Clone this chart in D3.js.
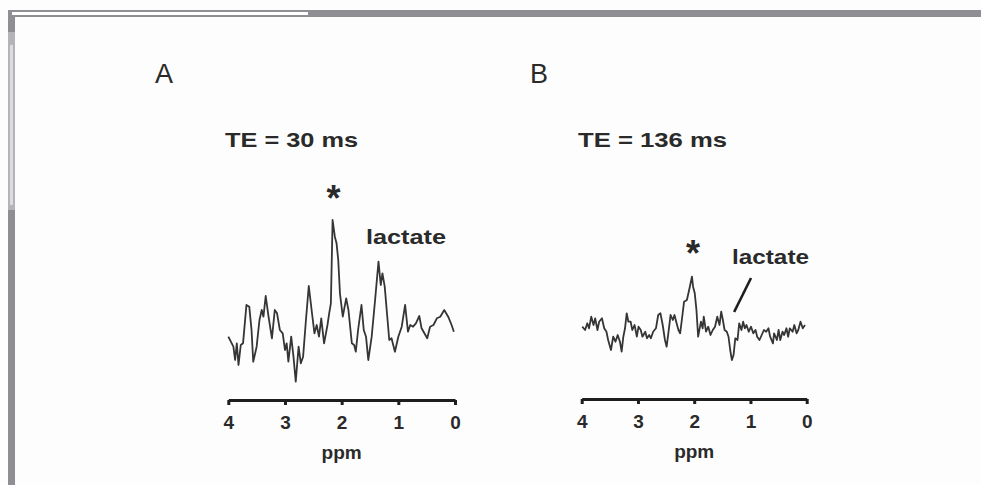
<!DOCTYPE html>
<html><head><meta charset="utf-8">
<script src="https://cdn.jsdelivr.net/npm/d3@7"></script>
<style>
html,body{margin:0;padding:0;background:#fdfdfd;}
svg{display:block;}
text{font-family:"Liberation Sans",Arial,sans-serif;fill:#2a2a2a;}
</style></head>
<body>
<svg id="chart" width="981" height="485"></svg>
<script>
// ---- Data ----
const ppmTicks = [4, 3, 2, 1, 0];
const tickLabels = ["4", "3", "2", "1", "0"];
const panelLabels = ["A", "B"];
const teLabels = ["TE = 30 ms", "TE = 136 ms"];

// Panel A: TE = 30 ms (chemical shift in ppm, signal in arbitrary units)
const ppmA = [4.00,3.91,3.88,3.85,3.82,3.78,3.74,3.68,3.63,3.59,3.56,3.50,3.45,3.41,3.38,3.34,3.29,3.23,3.18,3.14,3.09,3.04,3.00,2.97,2.94,2.89,2.85,2.81,2.76,2.72,2.68,2.63,2.58,2.53,2.48,2.44,2.40,2.36,2.31,2.25,2.22,2.19,2.16,2.12,2.09,2.06,2.03,1.98,1.92,1.88,1.82,1.78,1.75,1.71,1.65,1.61,1.57,1.53,1.47,1.41,1.35,1.31,1.28,1.24,1.19,1.16,1.12,1.06,1.00,0.94,0.88,0.83,0.79,0.74,0.69,0.63,0.59,0.54,0.49,0.44,0.38,0.32,0.26,0.19,0.12,0.06,0.02];
const sigA = [0.33,-0.67,-2.0,-0.33,-2.5,-0.5,-0.33,3.5,3.33,1.0,-2.17,-0.67,2.0,3.0,2.33,4.4,2.33,0.17,3.0,2.67,1.0,0.67,-1.0,-0.33,-2.17,0.33,-1.67,-4.17,-0.67,-2.33,-1.67,2.0,5.4,3.0,0.67,1.5,0.33,2.17,-0.33,1.5,2.67,3.67,12.0,10.33,9.67,8.0,4.67,2.33,4.17,3.0,-0.33,-0.5,-1.17,1.0,3.5,1.0,0.33,-2.0,0.33,4.0,7.83,5.5,6.67,5.33,2.0,0.0,0.17,-1.17,0.33,1.33,3.5,0.83,1.5,1.33,1.67,2.4,1.17,0.67,0.17,1.33,1.5,2.17,2.33,3.0,2.33,1.5,0.83];

// Panel B: TE = 136 ms
const ppmB = [3.99,3.94,3.90,3.87,3.83,3.79,3.76,3.72,3.69,3.64,3.60,3.56,3.53,3.48,3.44,3.40,3.36,3.32,3.29,3.26,3.23,3.20,3.17,3.13,3.10,3.06,3.02,2.99,2.95,2.92,2.87,2.84,2.80,2.77,2.73,2.68,2.64,2.60,2.56,2.52,2.49,2.46,2.42,2.38,2.35,2.32,2.28,2.25,2.22,2.18,2.13,2.09,2.04,2.02,1.99,1.96,1.93,1.88,1.85,1.83,1.79,1.75,1.71,1.67,1.63,1.59,1.55,1.52,1.49,1.46,1.42,1.39,1.36,1.33,1.30,1.27,1.23,1.20,1.16,1.13,1.10,1.07,1.03,0.99,0.95,0.91,0.88,0.84,0.80,0.76,0.72,0.68,0.65,0.60,0.58,0.53,0.50,0.47,0.43,0.40,0.36,0.33,0.30,0.25,0.22,0.18,0.15,0.11,0.07,0.03];
const sigB = [0.33,0,0.67,0.17,1.33,0.5,1.17,0,0.83,1.17,0.17,-0.17,-1.0,-2.0,-0.67,-1.17,-0.5,-1.17,-2.17,-0.67,0.17,1.67,0.83,0.83,0,0.5,-0.67,0.33,0,-0.67,-0.17,-0.83,-0.5,-0.83,-0.17,0.17,1.5,1.67,0.5,-1.0,-1.67,-0.33,1.5,1.0,1.5,0.83,0,-0.33,1.0,2.83,3.0,4.0,5.33,4.33,3.67,2.0,-0.67,0.83,0.17,1.33,-0.17,0.33,-0.5,0,0.33,1.33,0.5,1.83,1.0,0,-0.17,-0.67,-2.0,-3.0,-2.5,-0.83,-1.0,0.67,0,0.83,0.17,0.5,-0.17,0.33,-0.33,0,-0.67,-1.0,-0.5,0,-0.17,0.17,-0.67,-1.33,-0.33,-1.0,0,-1.0,-0.17,-0.5,0.17,-0.67,0.17,-0.17,0.5,-0.33,0,0.83,0.17,0.5];

// annotation anchors (ppm, signal)
const starA = [2.16, 12.0];
const starB = [2.04, 5.33];
const lactLeaderB = [[0.99, 5.2], [1.29, 1.8]];

// ---- Drawing ----
const svg = d3.select("#chart");
const ink = "#262626";

// page frame (scanned figure border)
svg.append("rect").attr("x",8).attr("y",10).attr("width",973).attr("height",7).attr("fill","#8f8f93");
svg.append("rect").attr("x",12).attr("y",12).attr("width",296).attr("height",3).attr("fill","#ffffff");
svg.append("rect").attr("x",8).attr("y",16).attr("width",7).attr("height",469).attr("fill","#8f8f93");
svg.append("rect").attr("x",8).attr("y",32).attr("width",7).attr("height",178).attr("fill","#b4b4b8");
svg.append("rect").attr("x",10).attr("y",45).attr("width",3).attr("height",160).attr("fill","#dcdcdf");

const panels = [
  {ppm: ppmA, sig: sigA, xr: [228.3, 455], y0: 340, axisY: 400, label: panelLabels[0], labelX: 155,
   te: teLabels[0], teX: 225, teLen: 133, star: starA, lactX: 366, lactY: 244, lactLen: 80},
  {ppm: ppmB, sig: sigB, xr: [581.7, 806.7], y0: 330, axisY: 399, label: panelLabels[1], labelX: 530,
   te: teLabels[1], teX: 578, teLen: 149, star: starB, lactX: 732, lactY: 264, lactLen: 77}
];

panels.forEach((p, i) => {
  const x = d3.scaleLinear().domain([4, 0]).range(p.xr);
  const y = d3.scaleLinear().domain([0, 10]).range([p.y0, p.y0 - 100]);
  const g = svg.append("g");

  // spectrum
  const data = p.ppm.map((v, k) => [v, p.sig[k]]);
  g.append("path").datum(data)
    .attr("fill", "none").attr("stroke", "#353535").attr("stroke-width", 1.8)
    .attr("stroke-linejoin", "round")
    .attr("d", d3.line().x(d => x(d[0])).y(d => y(d[1])));

  // ppm axis
  const ax = g.append("g").attr("transform", `translate(0,${p.axisY})`)
    .call(d3.axisBottom(x).tickValues(ppmTicks).tickFormat((d, k) => tickLabels[k])
      .tickSizeInner(5).tickSizeOuter(0).tickPadding(11));
  ax.select(".domain").attr("stroke", "#1e1e1e").attr("stroke-width", 3.2);
  ax.selectAll(".tick line").attr("stroke", "#1e1e1e").attr("stroke-width", 3);
  ax.selectAll(".tick text").attr("font-size", 19).attr("font-weight", "bold")
    .attr("font-family", "Liberation Sans, Arial, sans-serif").attr("fill", ink);
  g.append("text").attr("x", x(2)).attr("y", p.axisY + 59).attr("text-anchor", "middle")
    .attr("font-size", 19).attr("font-weight", "bold").attr("fill", ink).text("ppm");

  // panel letter and TE
  g.append("text").attr("x", p.labelX).attr("y", 83).attr("font-size", 27).attr("fill", ink).text(p.label);
  g.append("text").attr("x", p.teX).attr("y", 147).attr("font-size", 21).attr("font-weight", "bold")
    .attr("fill", ink).attr("textLength", p.teLen).attr("lengthAdjust", "spacingAndGlyphs").text(p.te);

  // asterisk over the peak
  g.append("text").attr("x", x(p.star[0]) + 1).attr("y", i === 0 ? 211 : 266)
    .attr("text-anchor", "middle").attr("font-size", 36).attr("font-weight", "bold").attr("fill", ink).text("*");

  // lactate label
  g.append("text").attr("x", p.lactX).attr("y", p.lactY).attr("font-size", 21).attr("font-weight", "bold")
    .attr("fill", ink).attr("textLength", p.lactLen).attr("lengthAdjust", "spacingAndGlyphs").text("lactate");

  if (i === 1) {
    g.append("line")
      .attr("x1", x(lactLeaderB[0][0])).attr("y1", y(lactLeaderB[0][1]))
      .attr("x2", x(lactLeaderB[1][0])).attr("y2", y(lactLeaderB[1][1]))
      .attr("stroke", "#1e1e1e").attr("stroke-width", 2.6);
  }
});
</script>
</body></html>
